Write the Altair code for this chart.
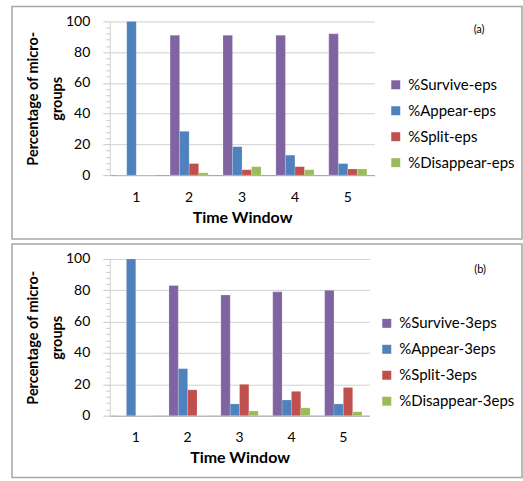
import altair as alt
import pandas as pd

windows = ["1", "2", "3", "4", "5"]

series_a = ["%Survive-eps", "%Appear-eps", "%Split-eps", "%Disappear-eps"]
survive_a = [0, 91, 91, 91, 92]
appear_a = [100, 28.5, 18.5, 13, 7.5]
split_a = [0, 7.5, 3.5, 5.5, 4]
disappear_a = [0, 1.5, 5.5, 3.5, 4]

series_b = ["%Survive-3eps", "%Appear-3eps", "%Split-3eps", "%Disappear-3eps"]
survive_b = [0, 83, 77, 79, 80]
appear_b = [100, 30, 7.5, 10, 7.5]
split_b = [0, 16.5, 20, 15.5, 18]
disappear_b = [0, 0, 3, 5, 2.5]

colors = ["#8064A2", "#4F81BD", "#C0504D", "#9BBB59"]
FONT = "Lato"


def make_df(series, values):
    rows = []
    for s, vals in zip(series, values):
        for w, v in zip(windows, vals):
            rows.append({"tw": w, "series": s, "value": v})
    return pd.DataFrame(rows)


def panel(series, values, tag, w, h, box, lx, ly):
    df = make_df(series, values)
    bars = alt.Chart(df).mark_bar(stroke="white", strokeWidth=0.3, strokeOpacity=0.6).encode(
        x=alt.X("tw:N", title="Time Window", sort=windows,
                scale=alt.Scale(paddingInner=0.28, paddingOuter=0.14),
                axis=alt.Axis(labelAngle=0, ticks=False, domainColor="#a6a6a6",
                              labelPadding=15, labelFontSize=14, labelFont=FONT,
                              labelColor="black", titleFont=FONT, titleFontSize=16,
                              titleFontWeight="bold", titleColor="black", titlePadding=5)),
        xOffset=alt.XOffset("series:N", sort=series,
                            scale=alt.Scale(paddingInner=0, paddingOuter=0)),
        y=alt.Y("value:Q", title=["Percentage of micro-", "groups"],
                scale=alt.Scale(domain=[0, 100], nice=False),
                axis=alt.Axis(values=list(range(0, 101, 4)),
                              labelExpr="datum.value % 20 == 0 ? datum.label : ''",
                              gridOpacity=alt.ExprRef(expr="datum.value % 20 == 0 ? 1 : 0"),
                              tickSize=alt.ExprRef(expr="datum.value % 20 == 0 ? 7 : 4"),
                              gridColor="#d0d0d0", tickColor="#c8c8c8", domainColor="#d0d0d0",
                              labelPadding=13, labelFontSize=14, labelFont=FONT,
                              labelColor="black", titleFont=FONT, titleFontSize=14.5,
                              titleFontWeight="bold", titleColor="black",
                              titleLineHeight=24, titlePadding=1)),
        color=alt.Color("series:N", sort=series,
                        scale=alt.Scale(domain=series, range=colors),
                        legend=alt.Legend(title=None, orient="none", legendX=lx, legendY=ly,
                                          symbolType="square", symbolSize=81,
                                          symbolStrokeWidth=0, labelFont=FONT,
                                          labelFontSize=15, labelColor="black",
                                          labelOffset=5, rowPadding=10)),
    )
    frame = alt.Chart(pd.DataFrame({"k": [0]})).mark_rect(
        fill="transparent", stroke="#a6a6a6", strokeWidth=1.5
    ).encode(x=alt.value(box[0]), x2=alt.value(box[1]),
             y=alt.value(box[2]), y2=alt.value(box[3]))
    label = alt.Chart(pd.DataFrame({"k": [0]})).mark_text(
        font=FONT, fontSize=11, color="black"
    ).encode(x=alt.value(tag[1]), y=alt.value(tag[2]), text=alt.value(tag[0]))
    return alt.layer(frame, bars, label).properties(width=w, height=h).resolve_scale(color="independent")


top = panel(series_a, [survive_a, appear_a, split_a, disappear_a], ("(a)", 370, 9),
            265, 154, (-98, 413, -15, 218), 279, 56)
bottom = panel(series_b, [survive_b, appear_b, split_b, disappear_b], ("(b)", 371, 11),
               260, 157, (-98, 413, -15, 219), 270, 57)

chart = alt.vconcat(top, bottom, spacing=3).resolve_scale(
    color="independent", x="independent", y="independent", xOffset="independent"
).resolve_legend(color="independent").configure(
    padding={"left": 11, "top": 5, "right": 0, "bottom": 0}
).configure_view(stroke=None).configure_concat(spacing=3)

chart.save("out.html", embed_options={"renderer": "svg", "actions": False})
